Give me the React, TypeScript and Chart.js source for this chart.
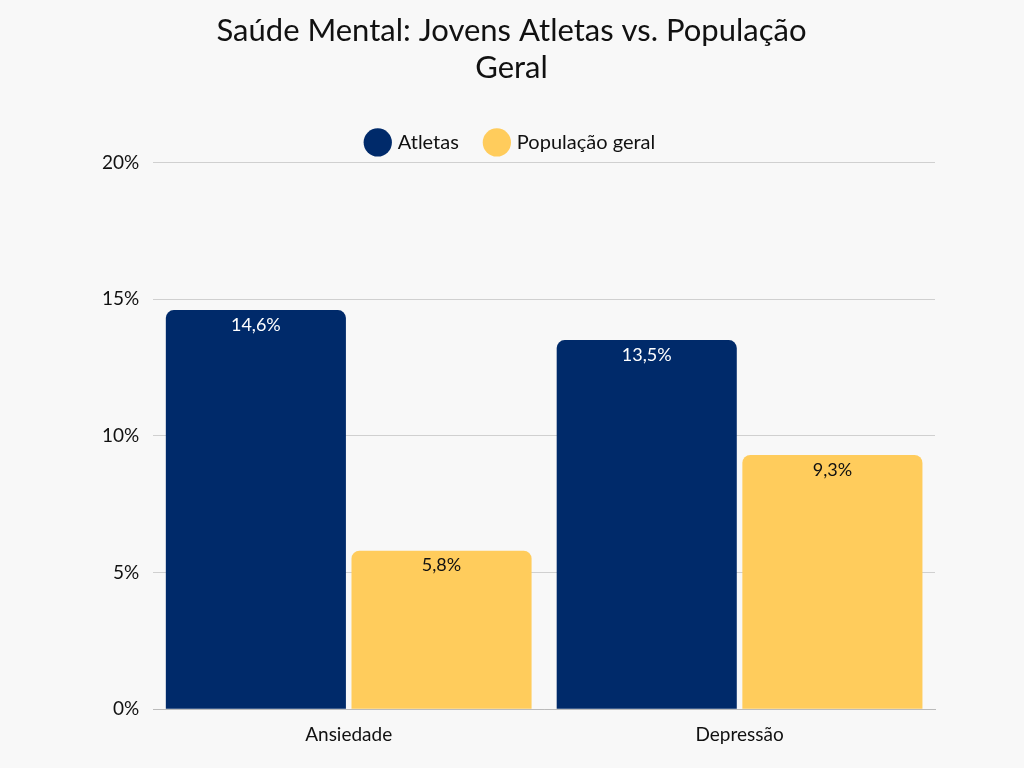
import React, { useEffect, useRef } from "react";
import { Chart, registerables } from "chart.js";
Chart.register(...registerables);

const categories = ["Ansiedade", "Depressão"];
const atletas = [14.6, 13.5];
const populacao = [5.8, 9.3];
const seriesNames = ["Atletas", "População geral"];
const titleLines = ["Saúde Mental: Jovens Atletas vs. População", "Geral"];

const labelPlugin = {
  id: "barLabels",
  afterDatasetsDraw(chart: any) {
    const ctx = chart.ctx;
    chart.data.datasets.forEach((ds: any, i: number) => {
      const meta = chart.getDatasetMeta(i);
      meta.data.forEach((bar: any, j: number) => {
        ctx.save();
        ctx.font = "18px Lato";
        ctx.fillStyle = i === 0 ? "#ffffff" : "#111111";
        ctx.textAlign = "center";
        ctx.textBaseline = "top";
        ctx.fillText(ds.data[j].toFixed(1).replace(".", ",") + "%", bar.x, bar.y + 6);
        ctx.restore();
      });
    });
  },
};

export default function App() {
  const ref = useRef<HTMLCanvasElement>(null);
  useEffect(() => {
    document.body.style.margin = "0";
    document.body.style.background = "#f8f8f8";
    const chart = new Chart(ref.current!, {
      type: "bar",
      data: {
        labels: categories,
        datasets: [
          { label: seriesNames[0], data: atletas, backgroundColor: "#002a6a", borderRadius: { topLeft: 8, topRight: 8 }, borderSkipped: "bottom" },
          { label: seriesNames[1], data: populacao, backgroundColor: "#ffcc5c", borderRadius: { topLeft: 8, topRight: 8 }, borderSkipped: "bottom" },
        ],
      },
      options: {
        animation: false,
        responsive: false,
        maintainAspectRatio: false,
        layout: { padding: { left: 88, right: 89, top: 8, bottom: 16 } },
        datasets: { bar: { categoryPercentage: 0.95, barPercentage: 0.97 } },
        plugins: {
          title: { display: true, text: titleLines, color: "#111", font: { family: "Lato", size: 31, weight: "normal" }, padding: { top: 4, bottom: 18 }, lineHeight: 1.35 },
          legend: {
            labels: { usePointStyle: true, pointStyle: "circle", boxWidth: 20, boxHeight: 20, padding: 28, color: "#111", font: { family: "Lato", size: 20 } },
          },
          tooltip: { enabled: false },
        },
        scales: {
          x: {
            grid: { display: false },
            border: { color: "#bbbbbb" },
            ticks: { color: "#111", font: { family: "Lato", size: 19 }, padding: 6 },
          },
          y: {
            min: 0, max: 20,
            ticks: { stepSize: 5, color: "#111", font: { family: "Lato", size: 19 }, padding: 14, callback: (v: any) => v + "%" },
            grid: { color: "#d0d0d0", drawTicks: false },
            border: { display: false },
          },
        },
      },
      plugins: [labelPlugin],
    } as any);
    return () => chart.destroy();
  }, []);
  return <canvas ref={ref} width={1024} height={768} style={{ display: "block" }} />;
}
